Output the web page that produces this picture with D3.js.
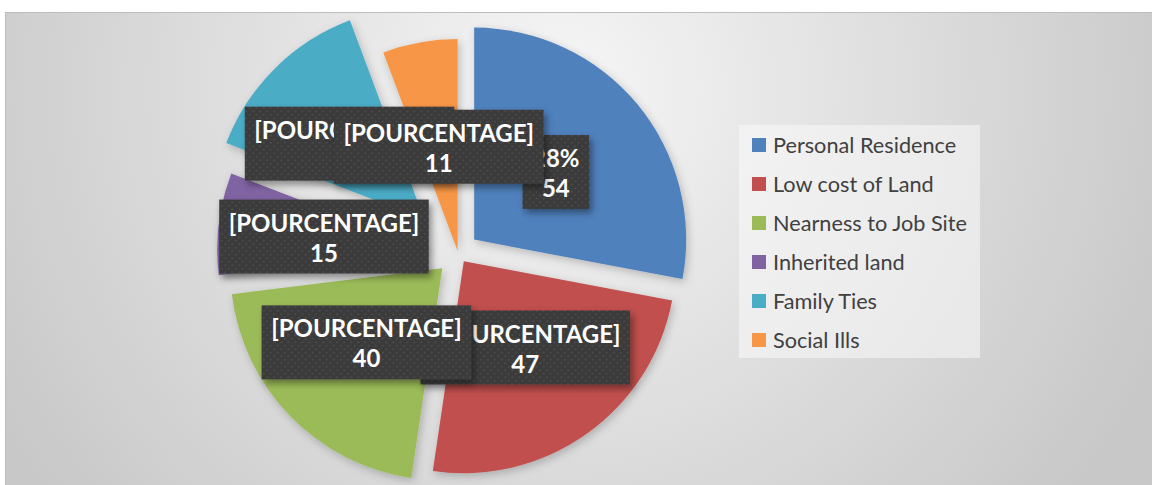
<!DOCTYPE html>
<html>
<head>
<meta charset="utf-8">
<script src="https://cdn.jsdelivr.net/npm/d3@7"></script>
<style>
  body { margin: 0; background: #fff; }
  svg { display: block; }
</style>
</head>
<body>
<svg id="chart" width="1152" height="485"></svg>
<script>
// data
const categories = ['Personal Residence', 'Low cost of Land', 'Nearness to Job Site', 'Inherited land', 'Family Ties', 'Social Ills'];
const values = [54, 47, 40, 15, 26, 11];
const percentLabels = ['28%', '[POURCENTAGE]', '[POURCENTAGE]', '[POURCENTAGE]', '[POURCENTAGE]', '[POURCENTAGE]'];

// style
const colors = ['#4f81bd', '#c0504d', '#9bbb59', '#8064a2', '#4bacc6', '#f79646'];
const explode = [21, 10, 22, 29, 48, 2];
const center = {x: 458, y: 253};
const radius = 212;

const svg = d3.select('#chart');
const defs = svg.append('defs');

const bg = defs.append('radialGradient')
  .attr('id', 'bg')
  .attr('gradientUnits', 'userSpaceOnUse')
  .attr('cx', 560).attr('cy', 90).attr('r', 650);
bg.append('stop').attr('offset', 0).attr('stop-color', '#f6f6f6');
bg.append('stop').attr('offset', 1).attr('stop-color', '#c8c8c8');

const dots = defs.append('pattern')
  .attr('id', 'dots')
  .attr('patternUnits', 'userSpaceOnUse')
  .attr('width', 7).attr('height', 7);
dots.append('rect').attr('width', 7).attr('height', 7).attr('fill', '#3b3b3b');
dots.append('circle').attr('cx', 1.75).attr('cy', 1.75).attr('r', 1.1).attr('fill', '#4a4a4a');
dots.append('circle').attr('cx', 5.25).attr('cy', 5.25).attr('r', 1.1).attr('fill', '#4a4a4a');

const sliceShadow = defs.append('filter').attr('id', 'sliceShadow')
  .attr('x', '-20%').attr('y', '-20%').attr('width', '140%').attr('height', '140%');
sliceShadow.append('feDropShadow')
  .attr('dx', 2).attr('dy', 3).attr('stdDeviation', 4)
  .attr('flood-color', '#000').attr('flood-opacity', 0.22);

const boxShadow = defs.append('filter').attr('id', 'boxShadow')
  .attr('x', '-20%').attr('y', '-30%').attr('width', '140%').attr('height', '160%');
boxShadow.append('feDropShadow')
  .attr('dx', 3).attr('dy', 4).attr('stdDeviation', 3.5)
  .attr('flood-color', '#000').attr('flood-opacity', 0.4);

// chart area
svg.append('rect')
  .attr('x', 5.5).attr('y', 12.5)
  .attr('width', 1150).attr('height', 480)
  .attr('fill', 'url(#bg)')
  .attr('stroke', '#bdbdbd');

const pie = d3.pie().sort(null).value(d => d);
const arc = d3.arc().innerRadius(0).outerRadius(radius);
const arcs = pie(values);

function offset(d, i) {
  const mid = (d.startAngle + d.endAngle) / 2;
  return [explode[i] * Math.sin(mid), -explode[i] * Math.cos(mid)];
}

const chart = svg.append('g')
  .attr('transform', 'translate(' + center.x + ',' + center.y + ')');

chart.append('g')
  .attr('class', 'slices')
  .selectAll('path')
  .data(arcs)
  .enter().append('path')
  .attr('d', arc)
  .attr('fill', (d, i) => colors[i])
  .attr('filter', 'url(#sliceShadow)')
  .attr('transform', (d, i) => 'translate(' + offset(d, i) + ')');

// data labels, drawn in series order so later ones sit on top
const labels = chart.append('g').attr('class', 'labels');
arcs.forEach((d, i) => {
  const c = arc.centroid(d);
  const o = offset(d, i);
  const cx = c[0] + o[0];
  const cy = c[1] + o[1];
  const g = labels.append('g');
  const box = g.append('rect').attr('fill', 'url(#dots)').attr('filter', 'url(#boxShadow)');
  const t1 = g.append('text')
    .attr('x', cx).attr('text-anchor', 'middle')
    .attr('font-family', 'Lato, sans-serif').attr('font-weight', 'bold')
    .attr('font-size', 24).attr('fill', '#fff')
    .text(percentLabels[i]);
  const t2 = g.append('text')
    .attr('x', cx).attr('text-anchor', 'middle')
    .attr('font-family', 'Lato, sans-serif').attr('font-weight', 'bold')
    .attr('font-size', 24).attr('fill', '#fff')
    .text(d.data);
  const w = Math.max(t1.node().getComputedTextLength(), t2.node().getComputedTextLength()) + 19;
  const h = 74;
  const top = cy - h / 2;
  box.attr('x', cx - w / 2).attr('y', top).attr('width', w).attr('height', h);
  t1.attr('y', top + 32);
  t2.attr('y', top + 62);
});

// legend
const legend = svg.append('g').attr('class', 'legend');
legend.append('rect')
  .attr('x', 739).attr('y', 125)
  .attr('width', 241).attr('height', 233)
  .attr('fill', '#fafafa').attr('fill-opacity', 0.55);

const items = legend.selectAll('.item')
  .data(categories)
  .enter().append('g')
  .attr('class', 'item')
  .attr('transform', (d, i) => 'translate(752,' + (145 + i * 39) + ')');

items.append('rect')
  .attr('y', -7).attr('width', 14).attr('height', 14)
  .attr('fill', (d, i) => colors[i]);

items.append('text')
  .attr('x', 21).attr('dy', '0.35em')
  .attr('font-family', 'Lato, sans-serif')
  .attr('font-size', 21.7).attr('fill', '#404040')
  .text(d => d);
</script>
</body>
</html>
